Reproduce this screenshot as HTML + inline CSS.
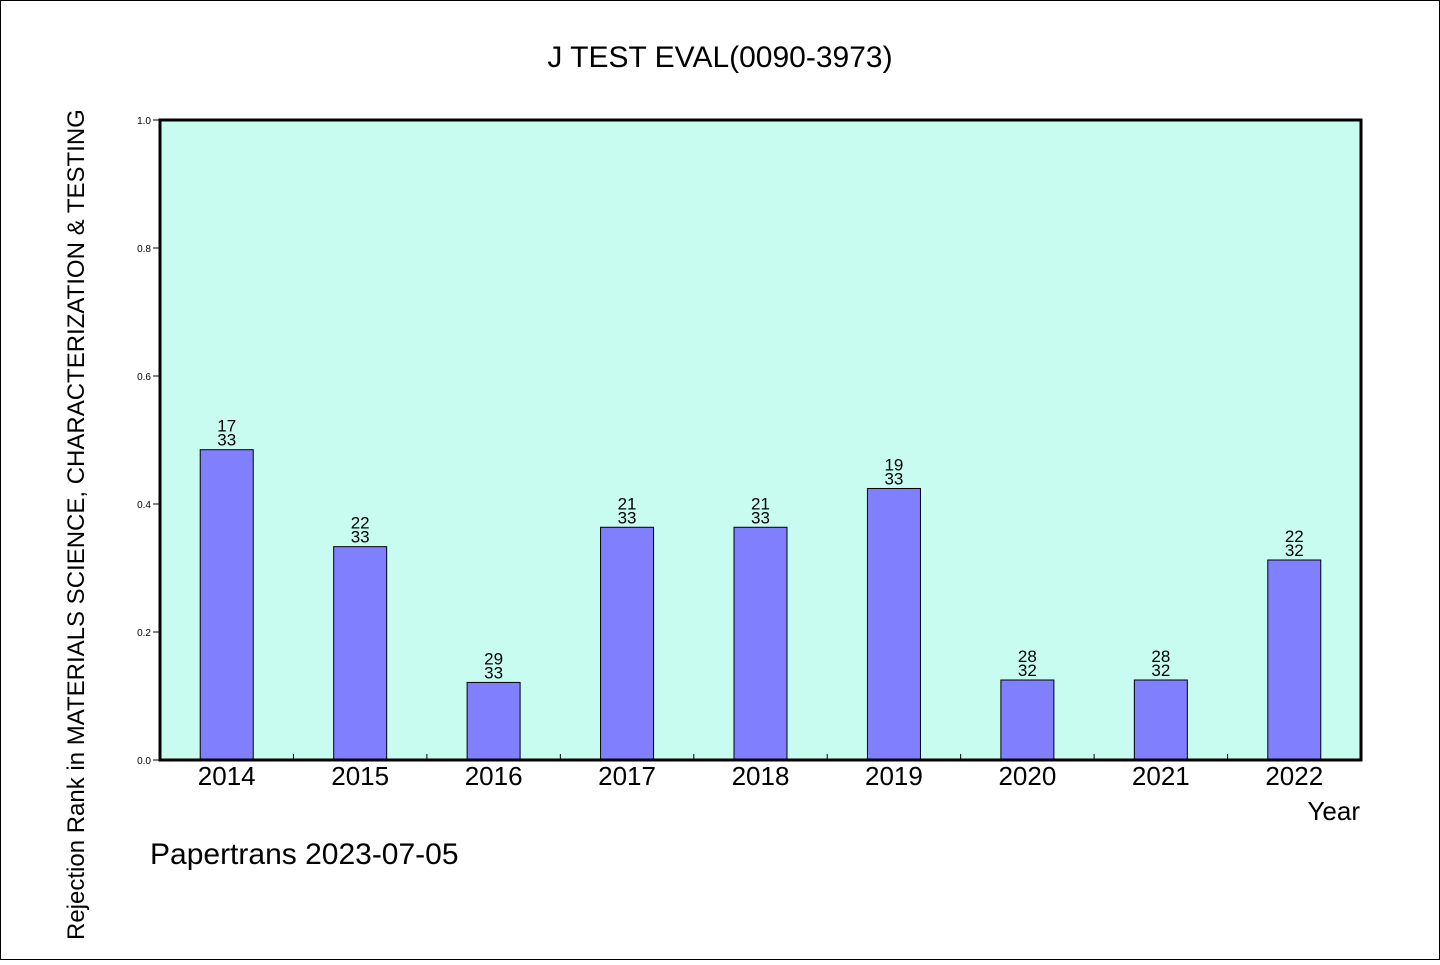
<!DOCTYPE html>
<html><head><meta charset="utf-8"><style>
body{margin:0;background:#fff}
svg text{font-family:"WenQuanYi Zen Hei","Liberation Sans",sans-serif;fill:#000}
</style></head><body>
<svg id="chart" width="1440" height="960" xmlns="http://www.w3.org/2000/svg">
<rect x="0.5" y="0.5" width="1439" height="959" fill="#fff" stroke="#000"/>
<text x="720" y="67" font-size="30" text-anchor="middle">J TEST EVAL(0090-3973)</text>
<rect x="160" y="120" width="1201" height="640" fill="#c8fcf0"/>
<g id="bars"></g>
<g id="axes"></g>
<rect x="160" y="120" width="1201" height="640" fill="none" stroke="#000" stroke-width="3"/>
<text x="1360" y="820" font-size="26" text-anchor="end">Year</text>
<text x="150" y="864" font-size="30">Papertrans 2023-07-05</text>
<text transform="translate(84,940) rotate(-90)" font-size="24">Rejection Rank in MATERIALS SCIENCE, CHARACTERIZATION &amp; TESTING</text>
</svg>
<script>
const categories=["2014","2015","2016","2017","2018","2019","2020","2021","2022"];
const ranks=[17,22,29,21,21,19,28,28,22];
const totals=[33,33,33,33,33,33,32,32,32];
const yTicks=[0,0.2,0.4,0.6,0.8,1.0];
const yTickLabels=["0.0","0.2","0.4","0.6","0.8","1.0"];
const NS="http://www.w3.org/2000/svg";
const L=160,R=1361,T=120,B=760;
const step=(R-L)/categories.length;
const xc=i=>L+step*(i+0.5);
const y=v=>B-v*(B-T);
function mk(tag,attrs,parent){const e=document.createElementNS(NS,tag);for(const k in attrs)e.setAttribute(k,attrs[k]);parent.appendChild(e);return e;}
const bars=document.getElementById('bars'),axes=document.getElementById('axes');
categories.forEach((c,i)=>{
  const v=(totals[i]-ranks[i])/totals[i];
  const bw=53;
  const r=mk('rect',{x:xc(i)-bw/2,y:y(v),width:bw,height:B-y(v),fill:'#8080ff',stroke:'#000','stroke-width':1},bars);
  
  
  const t1=mk('text',{x:xc(i),y:y(v)-18,'font-size':17,'text-anchor':'middle'},bars);t1.textContent=ranks[i];
  
  
  const t2=mk('text',{x:xc(i),y:y(v)-4,'font-size':17,'text-anchor':'middle'},bars);t2.textContent=totals[i];
  
  
  const xl=mk('text',{x:xc(i),y:785,'font-size':26,'text-anchor':'middle'},axes);xl.textContent=c;
  
  
  if(i>0){const tk=mk('line',{x1:L+step*i,x2:L+step*i,y1:B,y2:B-6,stroke:'#000'},axes);
  
  }
});
yTicks.forEach((v,i)=>{
  const tk=mk('line',{x1:L-7,x2:L,y1:y(v),y2:y(v),stroke:'#000'},axes);
  
  
  const t=mk('text',{x:L-9,y:y(v)+4,'font-size':10,'text-anchor':'end'},axes);t.textContent=yTickLabels[i];
  
  
});
</script>
</body></html>
